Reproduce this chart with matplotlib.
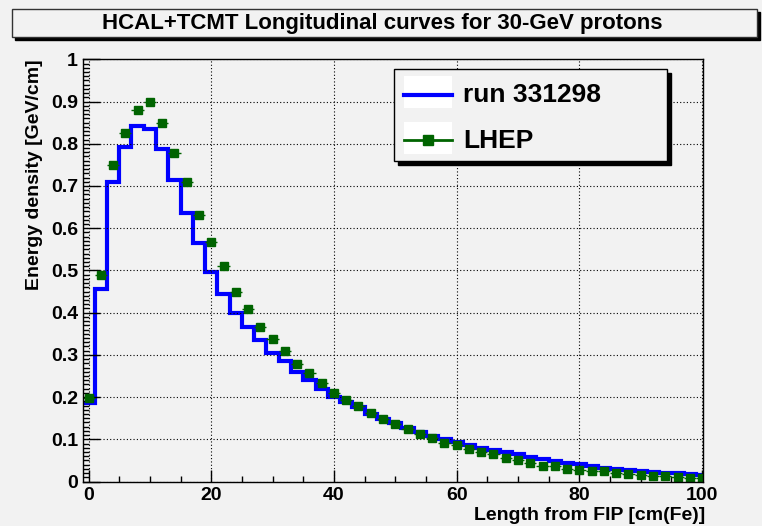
import matplotlib.pyplot as plt
from matplotlib.patches import Rectangle
from matplotlib.lines import Line2D
from matplotlib.ticker import MultipleLocator, FuncFormatter
import numpy as np

plt.rcParams['font.family'] = ['Liberation Sans', 'DejaVu Sans']
plt.rcParams['font.weight'] = 'bold'

W, H = 762, 526
BG = '#f2f2f2'

# bin centres [cm(Fe)], 2 cm wide bins
length = np.arange(0, 101, 2)

run_331298 = [0.186, 0.455, 0.710, 0.793, 0.841, 0.835, 0.787, 0.714, 0.636, 0.564,
              0.496, 0.444, 0.399, 0.365, 0.335, 0.305, 0.286, 0.260, 0.240, 0.218,
              0.201, 0.188, 0.176, 0.161, 0.149, 0.138, 0.127, 0.117, 0.108, 0.100,
              0.093, 0.086, 0.080, 0.075, 0.070, 0.065, 0.058, 0.053, 0.048, 0.045,
              0.041, 0.036, 0.033, 0.030, 0.027, 0.026, 0.023, 0.021, 0.019, 0.017,
              0.015]

lhep = [0.198, 0.489, 0.750, 0.826, 0.881, 0.898, 0.848, 0.779, 0.710, 0.632,
        0.567, 0.511, 0.450, 0.408, 0.366, 0.338, 0.309, 0.279, 0.258, 0.234,
        0.209, 0.194, 0.180, 0.162, 0.148, 0.136, 0.125, 0.113, 0.102, 0.092,
        0.087, 0.076, 0.071, 0.064, 0.055, 0.052, 0.043, 0.037, 0.036, 0.030,
        0.028, 0.026, 0.024, 0.020, 0.018, 0.015, 0.013, 0.012, 0.010, 0.009,
        0.008]

series_labels = ['run 331298', 'LHEP']


def fbox(x0, y0, x1, y1):
    # pixel box (from top-left) -> figure fractions
    return (x0 / W, 1 - y1 / H), (x1 - x0) / W, (y1 - y0) / H


fig = plt.figure(figsize=(W / 100, H / 100), dpi=100, facecolor=BG)

# title box with ROOT-like shadow
for (x0, y0, x1, y1), fc, ec in [((15, 12, 760, 40), 'black', 'black'),
                                  ((12, 9, 757, 37), BG, '#333333')]:
    xy, w, h = fbox(x0, y0, x1, y1)
    fig.add_artist(Rectangle(xy, w, h, transform=fig.transFigure,
                             facecolor=fc, edgecolor=ec, lw=1))
fig.text(382 / W, 1 - 23 / H, 'HCAL+TCMT Longitudinal curves for 30-GeV protons',
         ha='center', va='center', fontsize=16, fontweight='bold')

ax = fig.add_axes([83 / W, 1 - 481.5 / H, 620 / W, 422.2 / H])
ax.set_facecolor(BG)

edges = np.append(length - 1, length[-1] + 1)
ax.stairs(run_331298, edges, baseline=None, color='blue', lw=3)
ax.errorbar(length, lhep, xerr=1, fmt='s', color='#006400', ms=5.5,
            elinewidth=1, capsize=0)

ax.set_xlim(-0.9, 100.15)
ax.set_ylim(0, 1)

ax.xaxis.set_major_locator(MultipleLocator(20))
ax.xaxis.set_minor_locator(MultipleLocator(5))
ax.yaxis.set_major_locator(MultipleLocator(0.1))
ax.yaxis.set_minor_locator(MultipleLocator(0.01))
ax.yaxis.set_major_formatter(FuncFormatter(lambda v, p: f'{v:g}'))

ax.tick_params(which='both', direction='in', top=False, right=False, width=1,
               labelsize=14)
ax.tick_params(axis='x', which='major', length=8.6, pad=4)
ax.tick_params(axis='x', which='minor', length=4.3)
ax.tick_params(axis='y', which='major', length=12.2, pad=3.6)
ax.tick_params(axis='y', which='minor', length=4.3)
for lab in ax.get_xticklabels() + ax.get_yticklabels():
    lab.set_fontweight('bold')
for sp in ax.spines.values():
    sp.set_linewidth(1)

ax.grid(True, which='major', linestyle=(0, (1, 2)), color='black', lw=0.8)

ax.set_xlabel('Length from FIP [cm(Fe)]', fontsize=14, fontweight='bold',
              ha='right', va='center')
ax.xaxis.set_label_coords(1.004, -0.08)
ax.set_ylabel('Energy density [GeV/cm]', fontsize=14, fontweight='bold',
              ha='right', va='center')
ax.yaxis.set_label_coords(-0.079, 1.0)

# legend drawn ROOT style: shadowed box, white sample cells
for (x0, y0, x1, y1), fc in [((398, 73, 671, 165), 'black'),
                             ((394, 69, 667, 161), BG)]:
    xy, w, h = fbox(x0, y0, x1, y1)
    fig.add_artist(Rectangle(xy, w, h, transform=fig.transFigure,
                             facecolor=fc, edgecolor='black', lw=1))
for (y0, y1) in [(76, 108), (122, 154)]:
    xy, w, h = fbox(404, y0, 452, y1)
    fig.add_artist(Rectangle(xy, w, h, transform=fig.transFigure,
                             facecolor='white', edgecolor='none'))
fig.add_artist(Line2D([404 / W, 452 / W], [1 - 95 / H] * 2, transform=fig.transFigure,
                      color='blue', lw=3))
fig.add_artist(Line2D([404 / W, 452 / W], [1 - 140 / H] * 2, transform=fig.transFigure,
                      color='#006400', lw=2, marker='s', markevery=[0], ms=0))
fig.add_artist(Line2D([428 / W], [1 - 140 / H], transform=fig.transFigure,
                      color='#006400', marker='s', ms=7, lw=0))
fig.text(463 / W, 1 - 95 / H, series_labels[0], ha='left', va='center',
         fontsize=19, fontweight='bold')
fig.text(463 / W, 1 - 141 / H, series_labels[1], ha='left', va='center',
         fontsize=19, fontweight='bold')

fig.savefig('out.png', dpi=100, facecolor=BG)
